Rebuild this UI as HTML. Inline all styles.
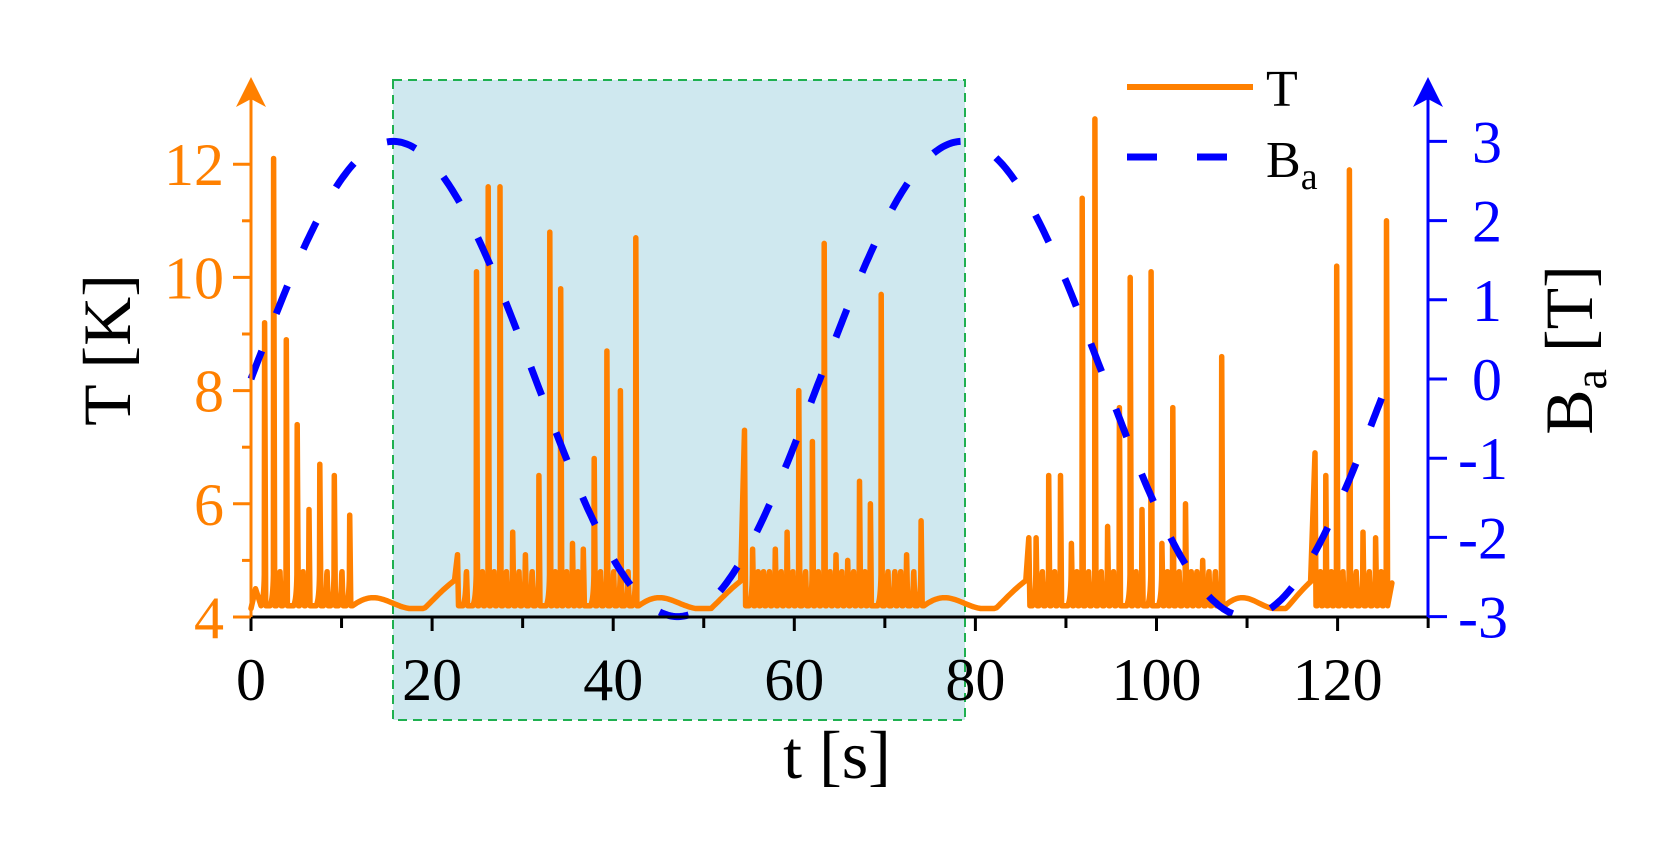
<!DOCTYPE html>
<html><head><meta charset="utf-8"><style>
html,body{margin:0;padding:0;background:#fff;}
svg{display:block;font-family:"Liberation Serif",serif;}
</style></head><body>
<svg id="s" width="1660" height="852" viewBox="0 0 1660 852" xmlns="http://www.w3.org/2000/svg">
<rect x="393" y="80" width="572" height="640" fill="#cfe8ef" stroke="#1fb050" stroke-width="2" stroke-dasharray="9,6"/>
<g id="plot"></g>
<line x1="251" y1="617" x2="1428" y2="617" stroke="#000" stroke-width="3"/>
<line x1="251" y1="619" x2="251" y2="90" stroke="#ff8000" stroke-width="3"/>
<path d="M251 77 L236 107 L251 99 L266 107 Z" fill="#ff8000"/>
<line x1="1428" y1="619" x2="1428" y2="90" stroke="#0000ff" stroke-width="3"/>
<path d="M1428 77 L1413 107 L1428 99 L1443 107 Z" fill="#0000ff"/>
<g id="ticks"></g>
<g font-size="60" fill="#000" text-anchor="middle" id="xl"></g>
<g font-size="60" fill="#ff8000" text-anchor="end" id="yl"></g>
<g font-size="60" fill="#0000ff" text-anchor="start" id="bl"></g>
<text x="837" y="778" font-size="68" text-anchor="middle">t [s]</text>
<text transform="translate(130,350) rotate(-90)" font-size="68" text-anchor="middle">T [K]</text>
<text transform="translate(1592,350) rotate(-90)" font-size="68" text-anchor="middle">B<tspan font-size="46" dy="14">a</tspan><tspan dy="-14"> [T]</tspan></text>
<line x1="1127" y1="87" x2="1253" y2="87" stroke="#ff8000" stroke-width="6"/>
<text x="1266" y="106" font-size="52">T</text>
<line x1="1127" y1="157" x2="1157" y2="157" stroke="#0000ff" stroke-width="7"/>
<line x1="1197" y1="157" x2="1227" y2="157" stroke="#0000ff" stroke-width="7"/>
<text x="1266" y="177" font-size="52">B<tspan font-size="38" dy="12">a</tspan></text>
</svg>
<script>
var NS="http://www.w3.org/2000/svg";
function X(t){return 251+t*9.055;}
function Y(T){return 617-(T-4)*56.6;}
function YB(b){return 379-b*79.2;}
function el(p,n,a,txt){var e=document.createElementNS(NS,n);for(var k in a)e.setAttribute(k,a[k]);if(txt!==undefined)e.textContent=txt;p.appendChild(e);return e;}
var g=document.getElementById('plot'),tk=document.getElementById('ticks');
for(var t=0;t<=130;t+=10){var L=(t%20==0)?12:9;el(tk,'line',{x1:X(t),y1:617,x2:X(t),y2:617+L+2,stroke:'#000','stroke-width':3});}
for(var t=0;t<=120;t+=20)el(document.getElementById('xl'),'text',{x:X(t),y:700},''+t);
for(var T=4;T<=12.5;T+=1){var maj=(T%2==0);el(tk,'line',{x1:maj?233:242,y1:Y(T),x2:251,y2:Y(T),stroke:'#ff8000','stroke-width':3});if(maj)el(document.getElementById('yl'),'text',{x:224,y:Y(T)+21},''+T);}
for(var b=-3;b<=3;b++){el(tk,'line',{x1:1428,y1:YB(b),x2:1447,y2:YB(b),stroke:'#0000ff','stroke-width':3});el(document.getElementById('bl'),'text',{x:b<0?1458:1472,y:YB(b)+21},''+b);}
var spikes=[[1.5,9.2],[2.5,12.1],[3.9,8.9],[5.1,7.4],[6.4,5.9],[7.6,6.7],[9.2,6.5],[10.9,5.8],
[22.8,5.1],[23.8,4.8],[24.9,10.1],[26.2,11.6],[27.5,11.6],[28.9,5.5],[30.3,5.1],[31.8,6.5],[33.0,10.8],[34.2,9.8],[35.5,5.3],[36.7,5.2],[37.9,6.8],[39.3,8.7],[40.8,8.0],[42.5,10.7],
[54.5,7.3],[55.4,5.2],[56.6,4.8],[57.9,5.2],[59.2,5.5],[60.5,8.0],[62,7.1],[63.3,10.6],[64.6,5.1],[65.9,5.0],[67.2,6.4],[68.4,6.0],[69.6,9.7],[71.1,4.8],[72.4,5.1],[74,5.7],
[85.9,5.4],[86.7,5.4],[88.1,6.5],[89.4,6.5],[90.6,5.3],[91.8,11.4],[93.2,12.8],[94.6,5.6],[95.9,7.7],[97.1,10.0],[98.4,5.9],[99.4,10.1],[100.6,5.3],[101.8,7.7],[103.2,6.0],[105.1,5.0],[107.2,8.6],
[117.5,6.9],[118.7,6.5],[119.9,10.2],[121.3,11.9],[122.8,5.5],[124.2,5.4],[125.4,11.0]];
var groups=[[0.6,11.3],[22.5,42.8],[54.2,74.3],[85.6,107.3],[117,125.8]];
var all=spikes.slice();
for(var i=0;i<spikes.length-1;i++){var a=spikes[i][0],c=spikes[i+1][0];var same=groups.some(function(gr){return a>=gr[0]&&c<=gr[1];});
 if(same&&c-a>1.2){var n=Math.floor((c-a)/0.6);for(var k=1;k<n;k++)all.push([a+(c-a)*k/n,4.8]);}}
all.sort(function(p,q){return p[0]-q[0];});
var d="M"+X(0)+" "+Y(4.15)+" L"+X(0.5)+" "+Y(4.5);
var prev=0.5;
function quiet(t0,t1,endT){
 var s="";for(var t=t0;t<=t1;t+=0.25){var u=(t-t0)/(t1-t0);var v=4.2+0.18*Math.sin(u*Math.PI*2.2)*(1-u)+ (u>0.7? (u-0.7)/0.3*(endT-4.25):0);s+=" L"+X(t).toFixed(1)+" "+Y(Math.max(4.15,v)).toFixed(1);}return s;}
for(var i=0;i<all.length;i++){var t=all[i][0],p=all[i][1];
 var gap=t-prev;
 if(gap>3){d+=quiet(prev+0.2,t-0.3,4.7);}
 else{d+=" L"+X(Math.max(prev+0.12,t-0.4)).toFixed(1)+" "+Y(4.2).toFixed(1)+" Q"+X(t-0.08).toFixed(1)+" "+Y(4.3).toFixed(1)+" "+X(t-0.03).toFixed(1)+" "+Y(4.75).toFixed(1);}
 d+=" L"+X(t).toFixed(1)+" "+Y(p).toFixed(1)+" L"+X(t+0.12).toFixed(1)+" "+Y(4.2).toFixed(1);
 prev=t+0.12;}
d+=" L"+X(126).toFixed(1)+" "+Y(4.6).toFixed(1);
el(g,'path',{d:d,fill:'none',stroke:'#ff8000','stroke-width':5.5,'stroke-linejoin':'round','stroke-linecap':'round'});
var bd="";for(var t=0;t<=125.7;t+=0.2){var b=3*Math.sin(t/10);bd+=(t==0?"M":" L")+X(t).toFixed(1)+" "+YB(b).toFixed(1);}
el(g,'path',{d:bd,fill:'none',stroke:'#0000ff','stroke-width':7,'stroke-dasharray':'30,40'});
</script>
</body></html>
